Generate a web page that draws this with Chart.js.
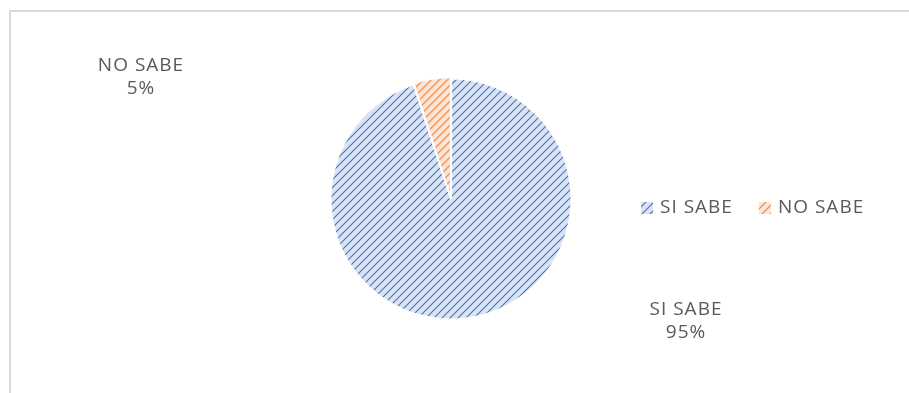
<!DOCTYPE html>
<html>
<head>
<meta charset="utf-8">
<script src="https://cdn.jsdelivr.net/npm/chart.js@4.4.1/dist/chart.umd.min.js"></script>
<style>
  html, body { margin: 0; padding: 0; background: #fff; }
  #wrap { position: relative; width: 909px; height: 393px; }
  #frame { position: absolute; left: 9px; top: 10px; width: 920px; height: 400px;
           border-top: 2px solid #D9D9D9; border-left: 2px solid #D9D9D9; box-sizing: border-box; }
  canvas { position: absolute; left: 0; top: 0; }
</style>
</head>
<body>
<div id="wrap">
  <div id="frame"></div>
  <canvas id="pie-chart" width="909" height="393"></canvas>
</div>
<script>
// data
const categories = ['SI SABE', 'NO SABE'];
const shares = [95, 5];
const lineColors = ['#4472C4', '#ED7D31'];
const fillColors = ['#DAE3F3', '#FBE5D6'];

// diagonal hatch like Excel's "light upward diagonal"
function hatch(bg, fg) {
  const c = document.createElement('canvas');
  c.width = 8; c.height = 8;
  const g = c.getContext('2d');
  g.fillStyle = bg;
  g.fillRect(0, 0, 8, 8);
  g.strokeStyle = fg;
  g.lineWidth = 1.1;
  g.beginPath();
  g.moveTo(-2, 10); g.lineTo(10, -2);
  g.moveTo(-2, 2); g.lineTo(2, -2);
  g.moveTo(6, 10); g.lineTo(10, 6);
  g.stroke();
  return g.createPattern(c, 'repeat');
}
const patterns = categories.map((c, i) => hatch(fillColors[i], lineColors[i]));

const FONT = '19px "Open Sans", sans-serif';
const TEXT = '#595959';
const SPACING = '1px';

// labels out in the corners, like the original
const pieLabels = {
  id: 'pieLabels',
  afterDatasetsDraw(chart) {
    const arc = chart.getDatasetMeta(0).data[0];
    const cx = arc.x, cy = arc.y;
    const ctx = chart.ctx;
    ctx.save();
    ctx.font = FONT;
    ctx.letterSpacing = SPACING;
    ctx.fillStyle = TEXT;
    ctx.textAlign = 'center';
    ctx.textBaseline = 'middle';
    const spots = [[cx + 235, cy + 111], [cx - 310, cy - 133]];
    categories.forEach((name, i) => {
      ctx.fillText(name, spots[i][0], spots[i][1]);
      ctx.fillText(shares[i] + '%', spots[i][0], spots[i][1] + 23);
    });
    ctx.restore();
  }
};

// horizontal legend to the right of the pie
const sideLegend = {
  id: 'sideLegend',
  afterDraw(chart) {
    const arc = chart.getDatasetMeta(0).data[0];
    const ctx = chart.ctx;
    let x = arc.x + 190;
    const y = arc.y + 9;
    ctx.save();
    ctx.font = FONT;
    ctx.letterSpacing = SPACING;
    ctx.textBaseline = 'middle';
    categories.forEach((name, i) => {
      ctx.fillStyle = patterns[i];
      ctx.fillRect(x, y - 6, 12, 12);
      ctx.fillStyle = TEXT;
      ctx.fillText(name, x + 19, y);
      x += 19 + ctx.measureText(name).width + 26;
    });
    ctx.restore();
  }
};

const ctx1 = document.getElementById('pie-chart').getContext('2d');
const pieChart = new Chart(ctx1, {
  type: 'pie',
  data: {
    labels: categories,
    datasets: [{
      data: shares,
      backgroundColor: patterns,
      borderColor: '#ffffff',
      borderWidth: 2,
      offset: [0, 3]
    }]
  },
  options: {
    responsive: false,
    animation: false,
    layout: { padding: { top: 76, bottom: 71, left: 200, right: 207 } },
    plugins: {
      legend: { display: false },
      tooltip: { enabled: false }
    }
  },
  plugins: [pieLabels, sideLegend]
});
</script>
</body>
</html>
